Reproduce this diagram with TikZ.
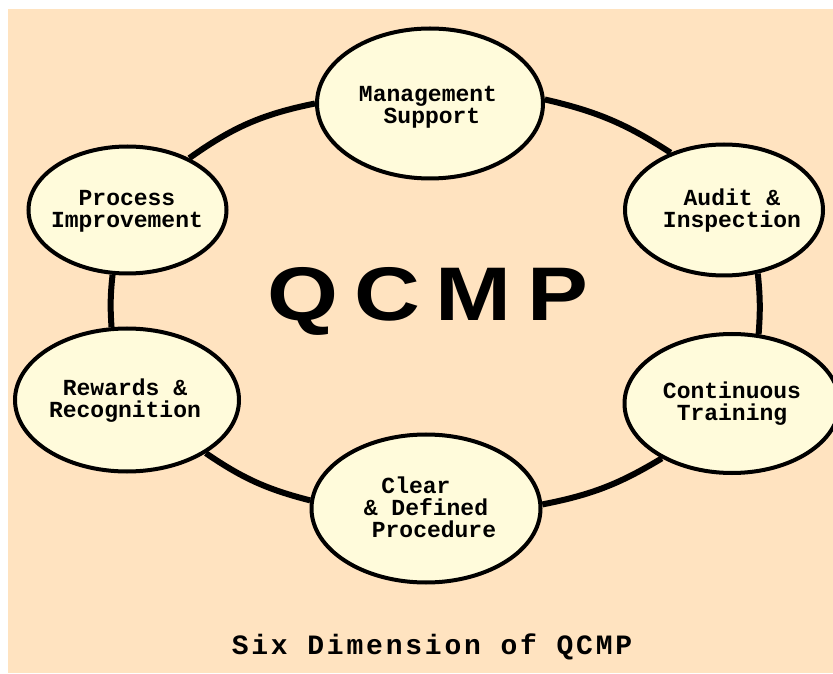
\documentclass[tikz,border=0pt]{standalone}
\usepackage{fontspec}
\usepackage{graphicx}
\setmonofont{Liberation Mono}
\newfontfamily\qcmpfont{Liberation Sans}[FakeStretch=1.2]
\newfontfamily\titlefont{Liberation Mono}[LetterSpace=10]
\usetikzlibrary{shapes.geometric,backgrounds}
\definecolor{peach}{HTML}{FFE3C0}
\definecolor{cream}{HTML}{FFFBDB}
\begin{document}
\begin{tikzpicture}[x=1pt,y=1pt,
  dim/.style={ellipse, draw=black, line width=4pt, fill=cream, inner sep=0pt},
  lbl/.style={font=\ttfamily\bfseries\fontsize{23}{22}\selectfont, align=center, inner sep=0pt},
  ring/.style={line width=6pt, line cap=butt}]
\useasboundingbox (0,0) rectangle (833,673);

\node[dim, minimum width=226pt, minimum height=150pt] (ms) at (430,569.5) {};
\node[dim, minimum width=198pt, minimum height=131pt] (ai) at (724,463) {};
\node[dim, minimum width=215pt, minimum height=139pt] (ct) at (732,269.5) {};
\node[dim, minimum width=229pt, minimum height=148pt] (cd) at (426,164.5) {};
\node[dim, minimum width=224pt, minimum height=143pt] (rr) at (127,273) {};
\node[dim, minimum width=198pt, minimum height=127pt] (pi) at (127.5,463) {};

\node[lbl] (tms) at (428,566) {Management\\\hspace*{8pt}Support};
\node[lbl] (tai) at (732,462) {Audit \&\\Inspection};
\node[lbl] (tct) at (732,269) {Continuous\\Training};
\node[lbl] (tcd) at (426,166) {Clear\hspace*{20pt}\\\& Defined\\\hspace*{16pt}Procedure};
\node[lbl] (trr) at (125,272) {Rewards \&\\Recognition};
\node[lbl] (tpi) at (127,462) {Process\\Improvement};

\node[font=\qcmpfont\bfseries\fontsize{76}{76}\selectfont, inner sep=0pt, anchor=base] (qcmp) at (428,352)
  {Q\hspace{16pt}C\hspace{16pt}M\hspace{16pt}P};

\node[font=\titlefont\bfseries\fontsize{28}{28}\selectfont, inner sep=0pt, anchor=base] (title) at (432,19)
  {Six Dimension of QCMP};

\begin{scope}[on background layer]
  \fill[white] (0,0) rectangle (833,673);
  \fill[peach] (8,0) rectangle (833,664);
  \draw[ring] (ms.2) to[bend left=10] (ai.133);
  \draw[ring] (ai.-62) to[bend left=5] (ct.69);
  \draw[ring] (ct.218) to[bend left=10] (cd.2);
  \draw[ring] (cd.176) to[bend left=10] (rr.-34);
  \draw[ring] (rr.102) to[bend left=5] (pi.257);
  \draw[ring] (pi.40) to[bend left=12] (ms.180);
\end{scope}
\end{tikzpicture}
\end{document}
